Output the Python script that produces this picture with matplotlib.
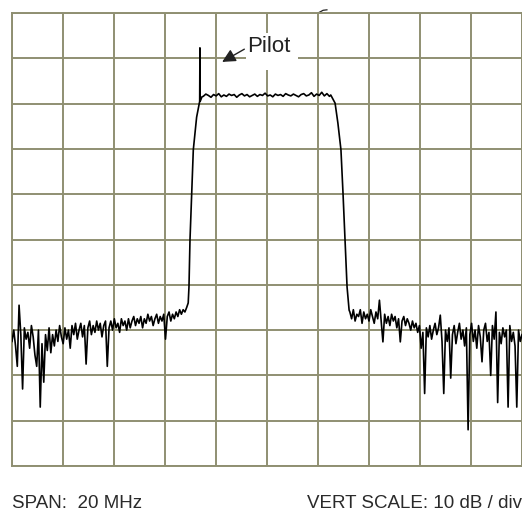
import numpy as np
import matplotlib
matplotlib.use("Agg")
import matplotlib.pyplot as plt
from matplotlib.patches import Rectangle

plt.rcParams['font.family'] = ['Liberation Sans', 'DejaVu Sans']

# frequency offset from centre (MHz) and level (dB)
left_noise_db = [
    -72.5, -70.0, -73.5, -78.0, -64.5, -71.0, -83.0, -69.5, -72.0, -70.5,
    -74.0, -69.0, -71.5, -75.5, -78.0, -70.0, -87.0, -73.0, -81.5, -71.0,
    -74.5, -69.5, -75.0, -71.0, -73.5, -70.0, -72.5, -69.0, -71.5, -73.0,
    -69.5, -72.0, -70.0, -74.0, -69.0, -71.0, -68.5, -72.0, -70.0, -68.5,
    -71.5, -69.0, -77.5, -69.5, -68.0, -71.0, -69.0, -70.5, -68.0, -70.0,
    -68.5, -71.5, -69.0, -68.0, -78.0, -69.5, -68.0, -70.0, -67.5, -69.5,
    -68.5, -70.5, -67.5, -69.0, -68.0, -70.0, -67.5, -69.5, -68.0, -67.0,
    -69.0, -67.5, -68.5, -67.0, -69.5, -67.5, -68.5, -66.5, -68.0, -67.0,
    -69.0, -67.5, -66.5, -68.5, -67.0, -68.0, -66.5, -72.0, -67.0, -66.0,
    -68.0, -66.5, -67.5, -66.0, -67.0, -65.5, -66.5, -65.5, -66.0, -65.0,
]
left_noise_mhz = np.linspace(-10.0, -3.15, len(left_noise_db))

left_edge_mhz = [-3.09, -3.06, -3.02, -2.95, -2.89, -2.76, -2.64, -2.63, -2.62, -2.55]
left_edge_db = [-64.0, -60.5, -50.1, -39.7, -30.2, -23.0, -19.5, -7.7, -19.5, -18.5]

top_db = [
    -18.4, -17.9, -18.2, -18.6, -18.0, -18.3, -17.8, -18.5, -18.1, -18.4,
    -17.9, -18.2, -18.0, -18.6, -18.1, -17.8, -18.3, -18.0, -18.5, -18.2,
    -17.9, -18.4, -18.0, -18.2, -17.7, -18.3, -18.1, -18.5, -17.9, -18.2,
    -18.0, -18.4, -17.8, -18.1, -18.3, -17.9, -18.2, -18.5, -18.0, -17.8,
    -18.3, -18.1, -17.6, -18.4, -17.9, -18.2, -17.5, -18.3, -17.8, -18.4,
]
top_mhz = np.linspace(-2.5, 2.45, len(top_db))

right_edge_mhz = [2.50, 2.67, 2.78, 2.90, 2.98, 3.06, 3.14, 3.22]
right_edge_db = [-18.1, -19.9, -24.3, -30.2, -39.7, -50.1, -60.5, -65.6]

right_noise_db = [
    -66.0, -67.5, -65.5, -68.0, -66.5, -67.0, -65.5, -68.5, -66.0, -67.5,
    -66.5, -68.0, -65.5, -67.0, -68.5, -66.0, -67.5, -63.4, -68.0, -72.6,
    -66.5, -68.5, -67.0, -69.0, -66.5, -68.0, -67.0, -69.5, -67.5, -72.6,
    -68.0, -67.0, -69.0, -67.5, -68.5, -70.0, -68.0, -69.5, -68.5, -70.5,
    -69.0, -74.0, -70.5, -84.0, -69.5, -71.5, -69.0, -72.0, -70.0, -68.5,
    -71.0, -69.5, -66.7, -72.5, -84.0, -70.0, -72.5, -69.5, -80.6, -71.0,
    -69.0, -73.0, -70.5, -68.5, -72.0, -70.0, -73.5, -69.5, -92.0, -71.0,
    -68.5, -72.5, -70.0, -74.0, -69.0, -71.5, -77.0, -70.0, -68.5, -72.5,
    -70.5, -80.0, -69.0, -72.0, -66.0, -86.0, -70.5, -73.0, -69.5, -71.5,
    -70.0, -87.0, -69.0, -72.5, -70.5, -73.5, -87.0, -70.0, -72.5, -71.0,
]
right_noise_mhz = np.linspace(3.25, 10.0, len(right_noise_db))

freq = np.concatenate([left_noise_mhz, left_edge_mhz, top_mhz, right_edge_mhz, right_noise_mhz])
level = np.concatenate([left_noise_db, left_edge_db, top_db, right_edge_db, right_noise_db])

grid_col = '#8f8f72'

fig = plt.figure(figsize=(5.22, 5.16), dpi=100)
ax = fig.add_axes([12 / 522, 50 / 516, 510 / 522, 453 / 516])
ax.set_xlim(-10, 10)
ax.set_ylim(-100, 0)
ax.set_xticks(np.arange(-10, 11, 2))
ax.set_yticks(np.arange(-100, 1, 10))
ax.tick_params(length=0, labelbottom=False, labelleft=False)
ax.grid(True, color=grid_col, linewidth=1.4)
for s in ax.spines.values():
    s.set_color(grid_col)
    s.set_linewidth(1.4)

# white patch behind the label
ax.add_patch(Rectangle((-0.82, -12.6), 2.04, 8.2, facecolor='white', edgecolor='none', zorder=2))

ax.plot(freq, level, color='black', linewidth=1.2, zorder=3)

ax.annotate('Pilot', xy=(-1.76, -10.8), xytext=(-0.78, -7.4),
            fontsize=16, color='#222222', va='center', ha='left', zorder=4,
            arrowprops=dict(arrowstyle='-|>,head_length=0.5,head_width=0.25',
                            color='#222222', lw=1.0, shrinkA=0, shrinkB=0,
                            relpos=(0.0, 0.45)))

# little stray mark above the top edge
ax.plot([2.0, 2.2, 2.35], [0.0, 0.6, 0.7], color='#222222', lw=0.9, clip_on=False)

fig.text(12 / 522, 1 - 508 / 516, 'SPAN:  20 MHz', fontsize=13.5, color='#2a2a2a',
         ha='left', va='baseline')
fig.text(522 / 522, 1 - 508 / 516, 'VERT SCALE: 10 dB / div', fontsize=13.5, color='#2a2a2a',
         ha='right', va='baseline')

fig.savefig('out.png', dpi=100, facecolor='white')
